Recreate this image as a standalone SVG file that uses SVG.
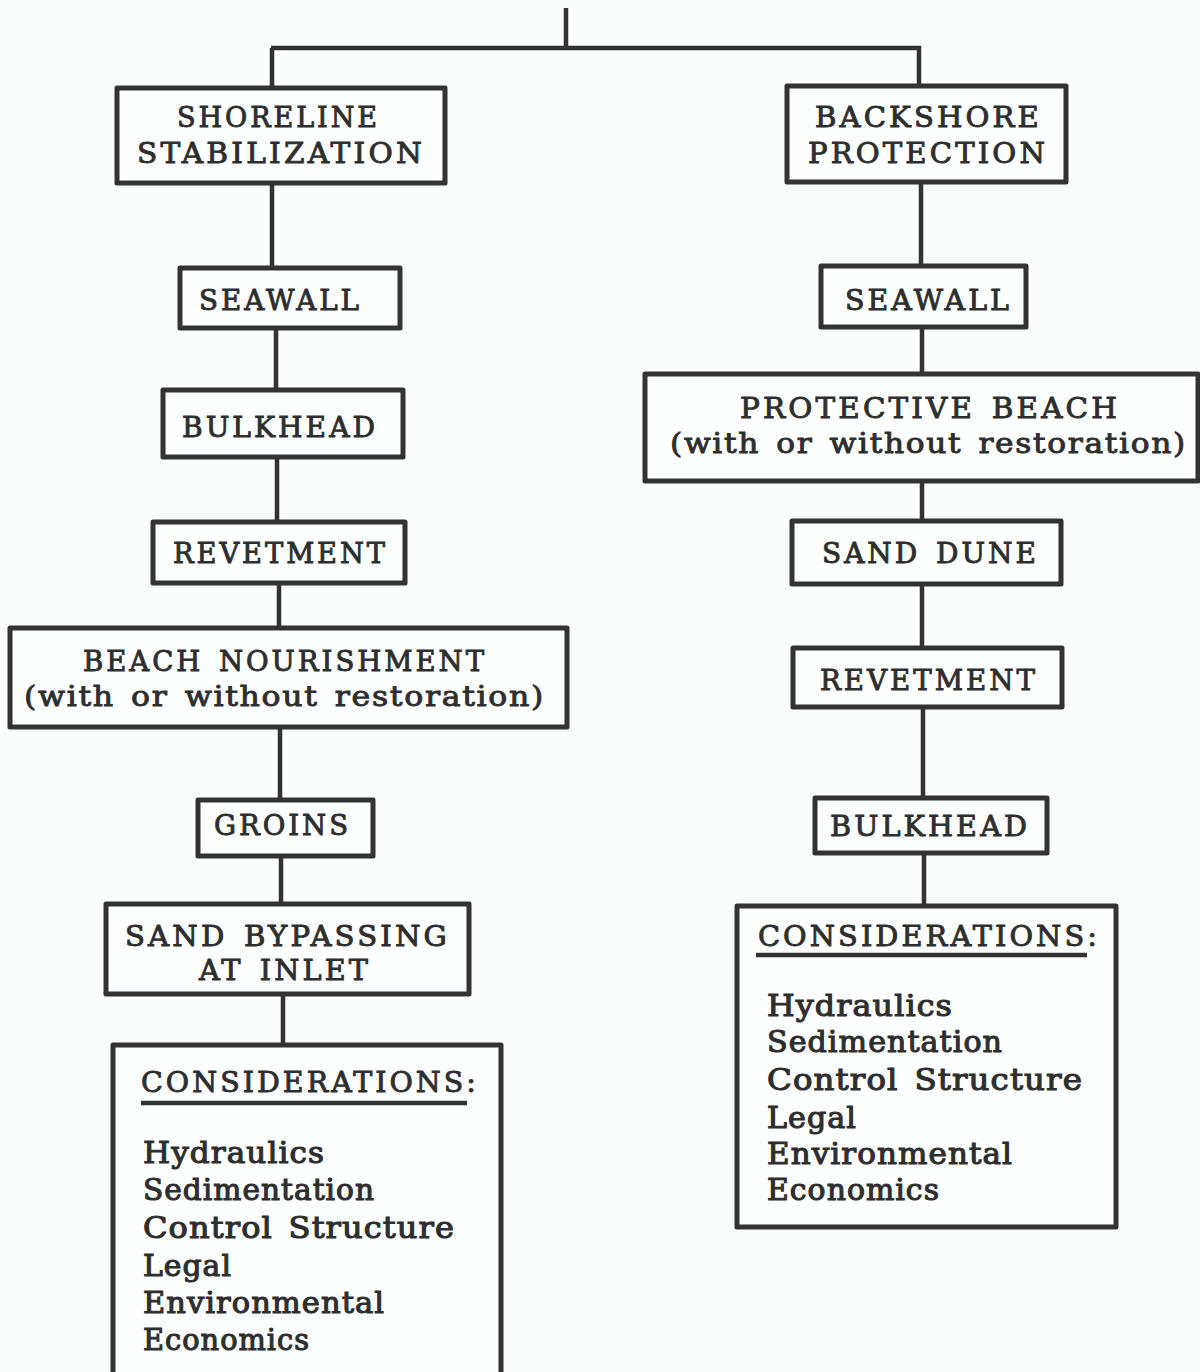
<svg xmlns="http://www.w3.org/2000/svg" width="1200" height="1372" viewBox="0 0 1200 1372">
<style>
.box{fill:#fdfefe;stroke:#333;stroke-width:5;stroke-linejoin:round}
.ln{fill:none;stroke:#333;stroke-width:4.5}
.t{font-family:"DejaVu Serif","Liberation Serif",serif;font-size:28px;letter-spacing:3px;word-spacing:4px;fill:#2e2e2e;stroke:#2e2e2e;stroke-width:0.9}
.i{font-family:"DejaVu Serif","Liberation Serif",serif;font-size:29px;letter-spacing:1px;word-spacing:4px;fill:#2e2e2e;stroke:#2e2e2e;stroke-width:1.1}
</style>
<rect width="1200" height="1372" fill="#fbfdfc"/>
<g id="connectors">
<path class="ln" d="M566 8V48M271 48H919V86M272 48V88"/>
<path class="ln" d="M272 183V268M276 328V390M277 457V522M279 583V628M280 727V800M281 856V904M283 994V1045"/>
<path class="ln" d="M921 182V266M922 327V374M922 481V521M922 584V648M923 707V798M924 853V906"/>
</g>
<g id="shoreline">
<rect class="box" x="117" y="88" width="328" height="95"/>
<text class="t" x="177" y="127" textLength="203" lengthAdjust="spacingAndGlyphs">SHORELINE</text>
<text class="t" x="137" y="163" textLength="288" lengthAdjust="spacingAndGlyphs">STABILIZATION</text>
</g>
<g id="backshore">
<rect class="box" x="787" y="86" width="279" height="96"/>
<text class="t" x="815" y="127" textLength="227" lengthAdjust="spacingAndGlyphs">BACKSHORE</text>
<text class="t" x="808" y="163" textLength="240" lengthAdjust="spacingAndGlyphs">PROTECTION</text>
</g>
<g id="seawall-l">
<rect class="box" x="180" y="268" width="220" height="60"/>
<text class="t" x="199" y="310" textLength="163" lengthAdjust="spacingAndGlyphs">SEAWALL</text>
</g>
<g id="bulkhead-l">
<rect class="box" x="163" y="390" width="240" height="67"/>
<text class="t" x="182" y="437" textLength="196" lengthAdjust="spacingAndGlyphs">BULKHEAD</text>
</g>
<g id="revetment-l">
<rect class="box" x="153" y="522" width="252" height="61"/>
<text class="t" x="173" y="563" textLength="215" lengthAdjust="spacingAndGlyphs">REVETMENT</text>
</g>
<g id="beach-nourishment">
<rect class="box" x="10" y="628" width="557" height="99"/>
<text class="t" x="83" y="671" textLength="404" lengthAdjust="spacingAndGlyphs">BEACH NOURISHMENT</text>
<text class="t" x="24" y="706" textLength="521" lengthAdjust="spacingAndGlyphs" style="letter-spacing:1.5px">(with or without restoration)</text>
</g>
<g id="groins">
<rect class="box" x="198" y="800" width="175" height="56"/>
<text class="t" x="214" y="835" textLength="137" lengthAdjust="spacingAndGlyphs">GROINS</text>
</g>
<g id="sand-bypassing">
<rect class="box" x="106" y="904" width="363" height="90"/>
<text class="t" x="125" y="946" textLength="325" lengthAdjust="spacingAndGlyphs">SAND BYPASSING</text>
<text class="t" x="199" y="980" textLength="172" lengthAdjust="spacingAndGlyphs">AT INLET</text>
</g>
<g id="considerations-l">
<path class="box" d="M113 1374V1045H501V1374"/>
<text class="t" x="141" y="1092" textLength="338" lengthAdjust="spacingAndGlyphs">CONSIDERATIONS:</text>
<path class="ln" d="M141 1103H467" stroke-width="3"/>
<text class="i" x="143" y="1163" textLength="182" lengthAdjust="spacingAndGlyphs">Hydraulics</text>
<text class="i" x="143" y="1200" textLength="232" lengthAdjust="spacingAndGlyphs">Sedimentation</text>
<text class="i" x="143" y="1238" textLength="312" lengthAdjust="spacingAndGlyphs">Control Structure</text>
<text class="i" x="143" y="1276" textLength="89" lengthAdjust="spacingAndGlyphs">Legal</text>
<text class="i" x="143" y="1313" textLength="242" lengthAdjust="spacingAndGlyphs">Environmental</text>
<text class="i" x="143" y="1350" textLength="167" lengthAdjust="spacingAndGlyphs">Economics</text>
</g>
<g id="seawall-r">
<rect class="box" x="821" y="266" width="205" height="61"/>
<text class="t" x="845" y="310" textLength="167" lengthAdjust="spacingAndGlyphs">SEAWALL</text>
</g>
<g id="protective-beach">
<rect class="box" x="645" y="374" width="553" height="107"/>
<text class="t" x="740" y="418" textLength="380" lengthAdjust="spacingAndGlyphs">PROTECTIVE BEACH</text>
<text class="t" x="670" y="453" textLength="517" lengthAdjust="spacingAndGlyphs" style="letter-spacing:1.5px">(with or without restoration)</text>
</g>
<g id="sand-dune">
<rect class="box" x="792" y="521" width="269" height="63"/>
<text class="t" x="822" y="563" textLength="217" lengthAdjust="spacingAndGlyphs">SAND DUNE</text>
</g>
<g id="revetment-r">
<rect class="box" x="793" y="648" width="269" height="59"/>
<text class="t" x="820" y="690" textLength="218" lengthAdjust="spacingAndGlyphs">REVETMENT</text>
</g>
<g id="bulkhead-r">
<rect class="box" x="815" y="798" width="232" height="55"/>
<text class="t" x="830" y="836" textLength="200" lengthAdjust="spacingAndGlyphs">BULKHEAD</text>
</g>
<g id="considerations-r">
<rect class="box" x="737" y="906" width="379" height="321"/>
<text class="t" x="758" y="946" textLength="342" lengthAdjust="spacingAndGlyphs">CONSIDERATIONS:</text>
<path class="ln" d="M756 955H1087" stroke-width="3"/>
<text class="i" x="767" y="1016" textLength="186" lengthAdjust="spacingAndGlyphs">Hydraulics</text>
<text class="i" x="767" y="1052" textLength="236" lengthAdjust="spacingAndGlyphs">Sedimentation</text>
<text class="i" x="767" y="1090" textLength="316" lengthAdjust="spacingAndGlyphs">Control Structure</text>
<text class="i" x="767" y="1128" textLength="90" lengthAdjust="spacingAndGlyphs">Legal</text>
<text class="i" x="767" y="1164" textLength="246" lengthAdjust="spacingAndGlyphs">Environmental</text>
<text class="i" x="767" y="1200" textLength="173" lengthAdjust="spacingAndGlyphs">Economics</text>
</g>
</svg>
